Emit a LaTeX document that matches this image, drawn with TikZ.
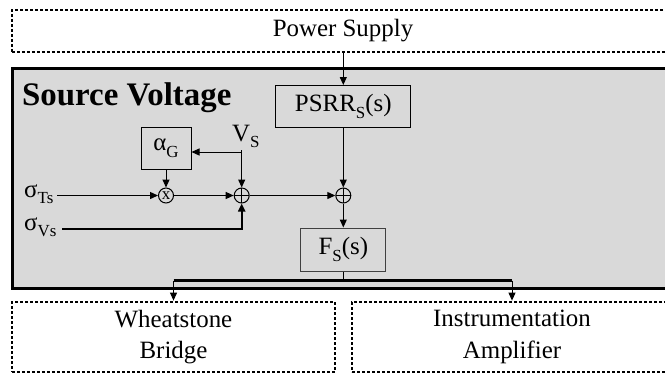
\documentclass[tikz,border=0pt]{standalone}
\usepackage{fontspec}
\setmainfont{Liberation Serif}
\usetikzlibrary{arrows.meta,calc}
\newcommand\mysub[1]{\raisebox{-0.28em}{\fontsize{17}{17}\selectfont #1}}
\definecolor{boxgray}{HTML}{D9D9D9}
\begin{document}
\begin{tikzpicture}[x=1bp,y=-1bp,
  dotbox/.style={draw, line width=2.8bp, dash pattern=on 2.6bp off 2.4bp, inner sep=0,
    font=\fontsize{25}{32}\selectfont, align=center},
  blk/.style={draw, line width=1bp, inner sep=0, font=\fontsize{25}{30}\selectfont},
  sumnode/.style={circle, draw, line width=1bp, minimum size=15bp, inner sep=0,
    path picture={\draw[line width=1bp]
      (path picture bounding box.north) -- (path picture bounding box.south)
      (path picture bounding box.west) -- (path picture bounding box.east);}},
  mulnode/.style={circle, draw, line width=1bp, minimum size=15bp, inner sep=0,
    font=\fontsize{17}{17}\selectfont},
  arr/.style={-{Triangle[length=8bp,width=7bp]}, line width=1bp},
  lbl/.style={font=\fontsize{25}{30}\selectfont, inner sep=0},
]
\useasboundingbox (0,0) rectangle (665,375);
\clip (0,0) rectangle (665,375);

% outer blocks
\node[dotbox, minimum width=662bp, minimum height=42bp] (ps) at (343,31) {Power Supply};
\node[draw, fill=boxgray, line width=3bp, minimum width=660bp, minimum height=220bp] (sv) at (343,178) {};
\node[dotbox, minimum width=323bp, minimum height=70bp] (wb) at (173.5,337) {Wheatstone\\Bridge};
\node[dotbox, minimum width=320bp, minimum height=70bp] (ia) at (512,337) {Instrumentation\\Amplifier};

% title
\node[anchor=base west, inner sep=0, font=\bfseries\fontsize{33}{33}\selectfont] (title) at (22,105) {Source Voltage};

% inner blocks
\node[blk, minimum width=135bp, minimum height=42bp] (psrr) at (343.3,106.5) {PSRR\mysub{S}(s)};
\node[blk, minimum width=50bp, minimum height=42bp] (ag) at (166,148) {α\mysub{G}};
\node[blk, draw=black!75, minimum width=85bp, minimum height=43bp] (fs) at (343.3,249.5) {F\mysub{S}(s)};

% junctions
\node[mulnode] (mul) at (166,195.5) {x};
\node[sumnode] (s1) at (241.7,195.5) {};
\node[sumnode] (s2) at (343.3,195.5) {};

% labels
\node[lbl, anchor=base west] (vs) at (232,141) {V\mysub{S}};
\node[lbl, anchor=base west] (sTs) at (24,197) {σ\mysub{Ts}};
\node[lbl, anchor=base west] (sVs) at (24,230) {σ\mysub{Vs}};
\coordinate (vsj) at (241.7,152);
\coordinate (tsstart) at (57,195.5);
\coordinate (vsstart) at (62,229);

% connectors
\draw[arr] (ps.south -| psrr) -- (psrr.north);
\draw[arr] (psrr.south) -- (s2.north);
\draw[line width=1bp] (vs.south -| vsj) ++(0,2) -- (vsj);
\draw[arr] (vsj) -- (s1.north);
\draw[arr] (vsj) -- (ag.east |- vsj);
\draw[arr] (ag.south) -- (mul.north);
\draw[arr, line width=1.4bp] (tsstart) -- (mul.west);
\draw[arr, line width=1.2bp] (mul.east) -- (s1.west);
\draw[arr, line width=1.2bp] (s1.east) -- (s2.west);
\draw[arr, line width=2.2bp] (vsstart) -- (vsstart -| s1) -- (s1.south);
\draw[arr] (s2.south) -- (fs.north);
\draw[line width=1bp] (fs.south) -- ++(0,9) coordinate (bar);
\draw[line width=2.2bp] (bar -| wb.north) -- (bar -| ia.north);
\draw[arr] (bar -| wb.north) -- (wb.north);
\draw[arr] (bar -| ia.north) -- (ia.north);
\end{tikzpicture}
\end{document}
